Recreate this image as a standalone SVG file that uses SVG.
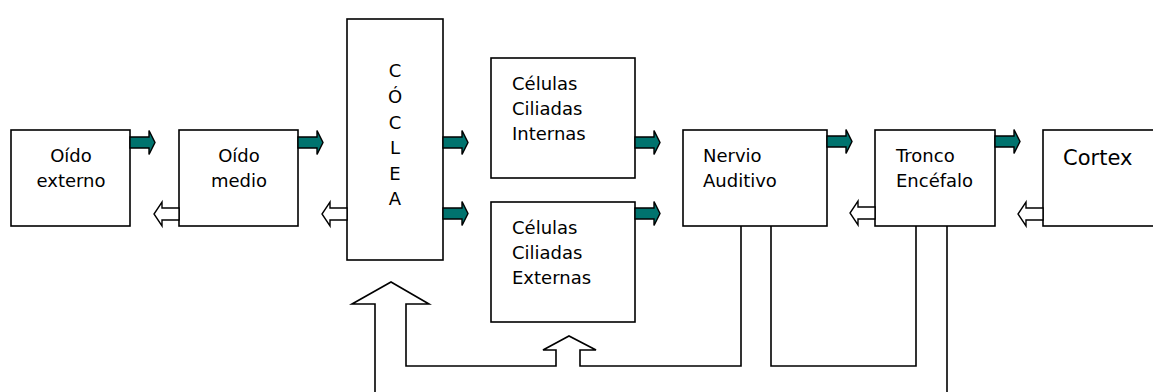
<svg xmlns="http://www.w3.org/2000/svg" width="1153" height="392" viewBox="0 0 1153 392">
  <defs>
    <style>
      .box { fill: #ffffff; stroke: #000000; stroke-width: 1.6; }
      .lbl { font-family: "DejaVu Sans", Verdana, sans-serif; font-size: 18px; fill: #000000; }
      .big { font-size: 21px; }
      .mid { text-anchor: middle; }
      .fwd { fill: #00736e; stroke: #000000; stroke-width: 1.4; stroke-linejoin: miter; }
      .back { fill: #ffffff; stroke: #000000; stroke-width: 1.4; }
      .line { fill: none; stroke: #000000; stroke-width: 1.6; }
    </style>
    <!-- solid block arrow pointing right, origin at the box edge -->
    <path id="fwdArrow" d="M0,-5.5 H19 V-12 L25,0 L19,12 V5.5 H0 Z"/>
    <!-- outlined block arrow pointing left, origin at the box edge -->
    <path id="backArrow" d="M0,-6 H-17 V-12 L-25,0 L-17,12 V6 H0 Z"/>
  </defs>

  <rect width="1153" height="392" fill="#ffffff"/>

  <g id="oido-externo">
    <rect class="box" x="11" y="130" width="119" height="96"/>
    <text class="lbl mid" x="71" y="162">Oído</text>
    <text class="lbl mid" x="71" y="187">externo</text>
  </g>

  <g id="oido-medio">
    <rect class="box" x="179" y="130" width="119" height="96"/>
    <text class="lbl mid" x="239" y="162">Oído</text>
    <text class="lbl mid" x="239" y="187">medio</text>
  </g>

  <g id="coclea">
    <rect class="box" x="347" y="19" width="96" height="241"/>
    <text class="lbl mid" x="395" y="77">C</text>
    <text class="lbl mid" x="395" y="103">Ó</text>
    <text class="lbl mid" x="395" y="129">C</text>
    <text class="lbl mid" x="395" y="154">L</text>
    <text class="lbl mid" x="395" y="180">E</text>
    <text class="lbl mid" x="395" y="205">A</text>
  </g>

  <g id="celulas-internas">
    <rect class="box" x="491" y="58" width="144" height="120"/>
    <text class="lbl" x="512" y="90">Células</text>
    <text class="lbl" x="512" y="115">Ciliadas</text>
    <text class="lbl" x="512" y="140">Internas</text>
  </g>

  <g id="celulas-externas">
    <rect class="box" x="491" y="202" width="144" height="120"/>
    <text class="lbl" x="512" y="234">Células</text>
    <text class="lbl" x="512" y="259">Ciliadas</text>
    <text class="lbl" x="512" y="284">Externas</text>
  </g>

  <g id="nervio-auditivo">
    <rect class="box" x="683" y="130" width="144" height="96"/>
    <text class="lbl" x="703" y="162">Nervio</text>
    <text class="lbl" x="703" y="187">Auditivo</text>
  </g>

  <g id="tronco-encefalo">
    <rect class="box" x="875" y="130" width="120" height="96"/>
    <text class="lbl" x="896" y="162">Tronco</text>
    <text class="lbl" x="896" y="187">Encéfalo</text>
  </g>

  <g id="cortex">
    <rect class="box" x="1043" y="130" width="130" height="96"/>
    <text class="lbl big" x="1063" y="165">Cortex</text>
  </g>

  <g id="connectors">
    <!-- forward signal path -->
    <use href="#fwdArrow" class="fwd" x="130" y="142.5"/>
    <use href="#fwdArrow" class="fwd" x="298" y="142.5"/>
    <use href="#fwdArrow" class="fwd" x="443" y="142.5"/>
    <use href="#fwdArrow" class="fwd" x="443" y="213.5"/>
    <use href="#fwdArrow" class="fwd" x="635" y="142.5"/>
    <use href="#fwdArrow" class="fwd" x="635" y="213.5"/>
    <use href="#fwdArrow" class="fwd" x="827" y="141.5"/>
    <use href="#fwdArrow" class="fwd" x="995" y="141.5"/>

    <!-- return path -->
    <use href="#backArrow" class="back" x="179" y="214"/>
    <use href="#backArrow" class="back" x="347" y="214"/>
    <use href="#backArrow" class="back" x="875" y="213"/>
    <use href="#backArrow" class="back" x="1043" y="214"/>

    <!-- efferent feedback: nervio auditivo to externas and cóclea -->
    <path class="line" d="M375,392 V304 H352 L391,282 L429,304 H406 V366 H556 V350 H543 L569,336 L596,350 H580 V366 H741 V226"/>
    <!-- tronco loop -->
    <path class="line" d="M771,226 V366 H916 V226"/>
    <path class="line" d="M947,226 V392"/>
  </g>
</svg>
